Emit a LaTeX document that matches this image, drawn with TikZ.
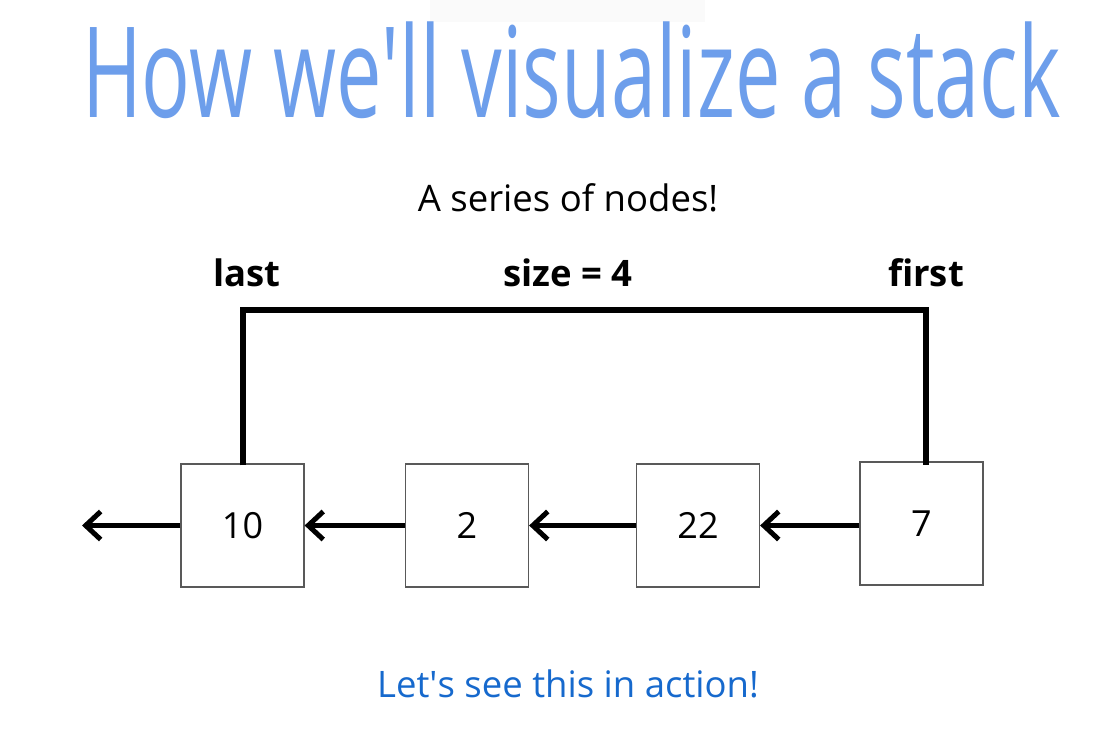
\documentclass[tikz,border=0pt]{standalone}
\usepackage{fontspec}
\setmainfont{Open Sans}
\usetikzlibrary{arrows.meta}
\definecolor{titleblue}{RGB}{109,158,235}
\definecolor{actionblue}{RGB}{22,105,205}
\tikzset{
  cell/.style={draw=black!65, line width=1.2pt, minimum size=123pt, inner sep=0pt, font=\fontsize{36}{36}\selectfont},
  link/.style={line width=5pt, -{Straight Barb[length=15pt,width=28pt,line width=5pt]}},
  bracket/.style={line width=6pt},
  tag/.style={font=\fontsize{36.5}{36.5}\selectfont\bfseries}
}
\begin{document}
\begin{tikzpicture}[x=1pt,y=-1pt]
\useasboundingbox (0,0) rectangle (1105,737);
% overlay strip at the top
\fill[black!2] (430,0) rectangle (705,22);

% title
\node[anchor=base, text=titleblue, inner sep=0pt] (title) at (571.5,117)
  {\scalebox{0.643}[1]{\fontsize{126}{126}\selectfont How we\textquotesingle ll visualize a stack}};
\node[font=\fontsize{36.5}{36.5}\selectfont] (sub) at (568,198) {A series of nodes!};

% nodes of the stack
\node[cell] (n10) at (242.5,525.5) {10};
\node[cell] (n2) at (467,525.5) {2};
\node[cell] (n22) at (698,525.5) {22};
\node[cell] (n7) at (921.5,523.5) {7};
\coordinate (null) at (82,525.5);

% links
\draw[link] (n10.west) -- (null);
\draw[link] (n2.west) -- (n10.east);
\draw[link] (n22.west) -- (n2.east);
\draw[link] (n7.west |- n22) -- (n22.east);

% last / first
\draw[bracket] ([yshift=-2pt]n10.north) -- ++(0,-155) -| ([xshift=4.5pt,yshift=-4pt]n7.north);
\node[tag] (last) at (247,273) {last};
\node[tag] (size) at (568,273) {size = 4};
\node[tag] (first) at (926,273) {first};

\node[text=actionblue, font=\fontsize{36.5}{36.5}\selectfont] (action) at (568,684)
  {Let\textquotesingle s see this in action!};
\end{tikzpicture}
\end{document}
